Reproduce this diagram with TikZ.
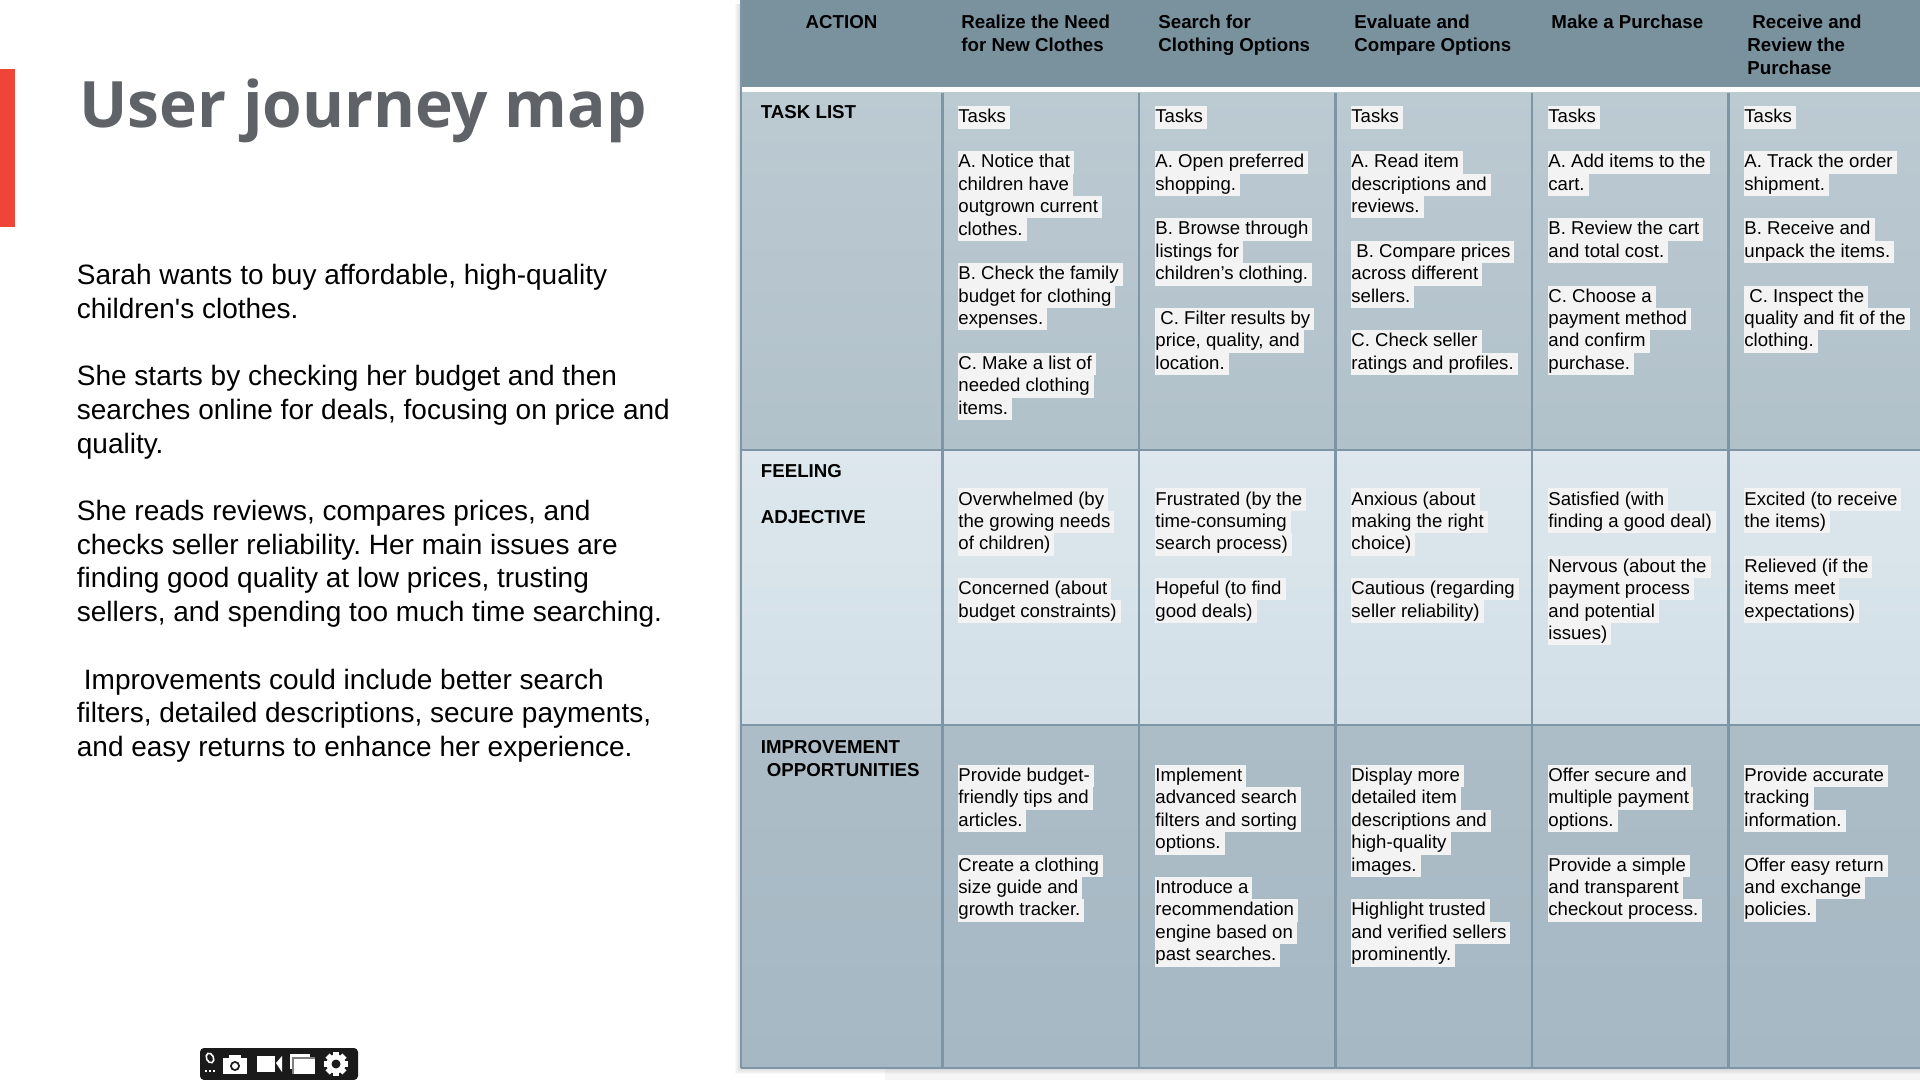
\documentclass[tikz,border=0pt]{standalone}
\usepackage{fontspec}
\usetikzlibrary{positioning}
\newfontfamily\bodyfont{Liberation Sans}
\newfontfamily\titlefont{Open Sans}
\definecolor{hdrblue}{HTML}{7A919E}
\definecolor{gridblue}{HTML}{7D95A5}
\definecolor{hlgray}{HTML}{F3F3F3}
\definecolor{titlegray}{HTML}{5F6368}
\definecolor{redbar}{HTML}{EE4538}
\definecolor{barblack}{HTML}{1A1A1A}
\setlength{\fboxsep}{0pt}
\newcommand{\hlline}[1]{\colorbox{hlgray}{\vrule height 8.3pt depth 2.9pt width 0pt #1\hspace{2pt}}}
\newcommand{\blankline}{\vrule height 8.3pt depth 2.9pt width 0pt}
\tikzset{
    cell/.style={anchor=north west, inner sep=0pt, align=left, font=\bodyfont\frenchspacing\fontsize{9.3}{11.2}\selectfont},
    headcell/.style={anchor=north west, inner sep=0pt, align=left, font=\bodyfont\frenchspacing\bfseries\fontsize{9.35}{11.4}\selectfont},
    para/.style={anchor=north west, inner sep=0pt, align=left, font=\bodyfont\frenchspacing\fontsize{14}{16.85}\selectfont},
    gridline/.style={draw=gridblue, line width=1.1pt},
}
\begin{document}
\begin{tikzpicture}[x=0.5pt, y=-0.5pt]
    \useasboundingbox (0, 0) rectangle (1920, 1080);
    % Red bar and title
    \fill[redbar] (0, 69) rectangle (15, 227);
    \node[anchor=base west, inner sep=0pt, text=titlegray, font=\titlefont\bfseries\fontsize{32}{36}\selectfont] (title) at (79, 128) {User journey map};
    % Left text
    \node[para] (story) at (76.5, 264) {Sarah wants to buy affordable, high-quality\\
        children's clothes.\\
        \blankline\\
        She starts by checking her budget and then\\
        searches online for deals, focusing on price and\\
        quality.\\
        \blankline\\
        She reads reviews, compares prices, and\\
        checks seller reliability. Her main issues are\\
        finding good quality at low prices, trusting\\
        sellers, and spending too much time searching.\\
        \blankline\\
        \hspace{3.5pt}Improvements could include better search\\
        filters, detailed descriptions, secure payments,\\
        and easy returns to enhance her experience.};
    % Shadow of the table
    \foreach \s in {1, 2, ..., 6} {
        \fill[black, opacity=0.025] (741 - \s, 4) rectangle (1920, 1068 + \s);
    }
    \fill[black, opacity=0.04] (885, 1068) rectangle (1920, 1080);
    % Table rows
    \fill[hdrblue] (741, 0) rectangle (1920, 87);
    \fill[white] (741, 87) rectangle (1920, 93);
    \shade[top color={rgb,255:red,188;green,202;blue,210}, bottom color={rgb,255:red,177;green,193;blue,202}] (741, 93) rectangle (1920, 450);
    \shade[top color={rgb,255:red,221;green,231;blue,237}, bottom color={rgb,255:red,210;green,223;blue,231}] (741, 450) rectangle (1920, 725);
    \shade[top color={rgb,255:red,173;green,189;blue,199}, bottom color={rgb,255:red,165;green,184;blue,196}] (741, 725) rectangle (1920, 1068);
    % Grid
    \foreach \x in {942.5, 1139, 1335.5, 1532, 1728.5} {
        \draw[gridline] (\x, 93) -- (\x, 1068);
    }
    \draw[gridline] (741, 450) -- (1920, 450);
    \draw[gridline] (741, 725) -- (1920, 725);
    \draw[gridline] (741, 1068) -- (1920, 1068);
    \draw[gridline] (741, 0) -- (741, 1068);
    % Header row
    \node[headcell, anchor=north] (action) at (841.5, 15) {ACTION};
    \node[headcell] (realize) at (961, 15) {Realize the Need\\for New Clothes};
    \node[headcell] (search) at (1158, 15) {Search for\\Clothing Options};
    \node[headcell] (evaluate) at (1354, 15) {Evaluate and\\Compare Options};
    \node[headcell] (purchase) at (1551, 15) {Make a Purchase};
    \node[headcell] (receive) at (1747, 15) {\hspace{2.5pt}Receive and\\Review the\\Purchase};
    % Row labels
    \node[headcell] (tasklist) at (760.5, 105) {TASK LIST};
    \node[headcell] (feeling) at (760.5, 464) {FEELING};
    \node[headcell] (adjective) at (760.5, 510) {ADJECTIVE};
    \node[headcell] (improve) at (760.5, 740) {IMPROVEMENT\\\hspace{3pt}OPPORTUNITIES};
    % Tasks
    \node[cell] (task1) at (958, 106) {\hlline{Tasks}\\\blankline\\\hlline{A. Notice that}\\\hlline{children have}\\\hlline{outgrown current}\\\hlline{clothes.}\\\blankline\\\hlline{B. Check the family}\\\hlline{budget for clothing}\\\hlline{expenses.}\\\blankline\\\hlline{C. Make a list of}\\\hlline{needed clothing}\\\hlline{items.}};
    \node[cell] (task2) at (1155, 106) {\hlline{Tasks}\\\blankline\\\hlline{A. Open preferred}\\\hlline{shopping.}\\\blankline\\\hlline{B. Browse through}\\\hlline{listings for}\\\hlline{children’s clothing.}\\\blankline\\\hlline{\hspace{2.5pt}C. Filter results by}\\\hlline{price, quality, and}\\\hlline{location.}};
    \node[cell] (task3) at (1351, 106) {\hlline{Tasks}\\\blankline\\\hlline{A. Read item}\\\hlline{descriptions and}\\\hlline{reviews.}\\\blankline\\\hlline{\hspace{2.5pt}B. Compare prices}\\\hlline{across different}\\\hlline{sellers.}\\\blankline\\\hlline{C. Check seller}\\\hlline{ratings and profiles.}};
    \node[cell] (task4) at (1548, 106) {\hlline{Tasks}\\\blankline\\\hlline{A. Add items to the}\\\hlline{cart.}\\\blankline\\\hlline{B. Review the cart}\\\hlline{and total cost.}\\\blankline\\\hlline{C. Choose a}\\\hlline{payment method}\\\hlline{and confirm}\\\hlline{purchase.}};
    \node[cell] (task5) at (1744, 106) {\hlline{Tasks}\\\blankline\\\hlline{A. Track the order}\\\hlline{shipment.}\\\blankline\\\hlline{B. Receive and}\\\hlline{unpack the items.}\\\blankline\\\hlline{\hspace{2.5pt}C. Inspect the}\\\hlline{quality and fit of the}\\\hlline{clothing.}};
    % Feelings
    \node[cell] (feel1) at (958, 488) {\hlline{Overwhelmed (by}\\\hlline{the growing needs}\\\hlline{of children)}\\\blankline\\\hlline{Concerned (about}\\\hlline{budget constraints)}};
    \node[cell] (feel2) at (1155, 488) {\hlline{Frustrated (by the}\\\hlline{time-consuming}\\\hlline{search process)}\\\blankline\\\hlline{Hopeful (to find}\\\hlline{good deals)}};
    \node[cell] (feel3) at (1351, 488) {\hlline{Anxious (about}\\\hlline{making the right}\\\hlline{choice)}\\\blankline\\\hlline{Cautious (regarding}\\\hlline{seller reliability)}};
    \node[cell] (feel4) at (1548, 488) {\hlline{Satisfied (with}\\\hlline{finding a good deal)}\\\blankline\\\hlline{Nervous (about the}\\\hlline{payment process}\\\hlline{and potential}\\\hlline{issues)}};
    \node[cell] (feel5) at (1744, 488) {\hlline{Excited (to receive}\\\hlline{the items)}\\\blankline\\\hlline{Relieved (if the}\\\hlline{items meet}\\\hlline{expectations)}};
    % Improvements
    \node[cell] (impr1) at (958, 764.5) {\hlline{Provide budget-}\\\hlline{friendly tips and}\\\hlline{articles.}\\\blankline\\\hlline{Create a clothing}\\\hlline{size guide and}\\\hlline{growth tracker.}};
    \node[cell] (impr2) at (1155, 764.5) {\hlline{Implement}\\\hlline{advanced search}\\\hlline{filters and sorting}\\\hlline{options.}\\\blankline\\\hlline{Introduce a}\\\hlline{recommendation}\\\hlline{engine based on}\\\hlline{past searches.}};
    \node[cell] (impr3) at (1351, 764.5) {\hlline{Display more}\\\hlline{detailed item}\\\hlline{descriptions and}\\\hlline{high-quality}\\\hlline{images.}\\\blankline\\\hlline{Highlight trusted}\\\hlline{and verified sellers}\\\hlline{prominently.}};
    \node[cell] (impr4) at (1548, 764.5) {\hlline{Offer secure and}\\\hlline{multiple payment}\\\hlline{options.}\\\blankline\\\hlline{Provide a simple}\\\hlline{and transparent}\\\hlline{checkout process.}};
    \node[cell] (impr5) at (1744, 764.5) {\hlline{Provide accurate}\\\hlline{tracking}\\\hlline{information.}\\\blankline\\\hlline{Offer easy return}\\\hlline{and exchange}\\\hlline{policies.}};
    % Toolbar
    \fill[barblack, rounded corners=2pt] (200, 1048) rectangle (358, 1080);
    % small icon
    \draw[white, line width=0.8pt, rotate around={25:(210, 1058)}] (210, 1058) ellipse (3.5 and 5);
    \foreach \x in {206, 210, 214} {
        \fill[white] (\x - 1, 1070) rectangle (\x + 1, 1072);
    }
    % camera
    \fill[white] (223, 1058) rectangle (247, 1074);
    \fill[white] (229, 1055) rectangle (241, 1058);
    \fill[barblack] (235, 1066) circle (5);
    \fill[white] (235, 1066) circle (3);
    % video camera
    \fill[white] (257, 1056) rectangle (275, 1072);
    \fill[white] (276, 1063) -- (282, 1056) -- (282, 1072) -- cycle;
    % copy windows
    \fill[white] (290, 1054) rectangle (310, 1069);
    \fill[gray] (292, 1057) rectangle (315, 1074);
    \fill[white] (294, 1059) rectangle (315, 1074);
    % gear
    \foreach \a in {0, 45, ..., 315} {
        \fill[white, rotate around={\a:(336, 1064)}] (333, 1052) rectangle (339, 1060);
    }
    \fill[white] (336, 1064) circle (9.5);
    \fill[barblack] (336, 1064) circle (4.5);
\end{tikzpicture}
\end{document}
